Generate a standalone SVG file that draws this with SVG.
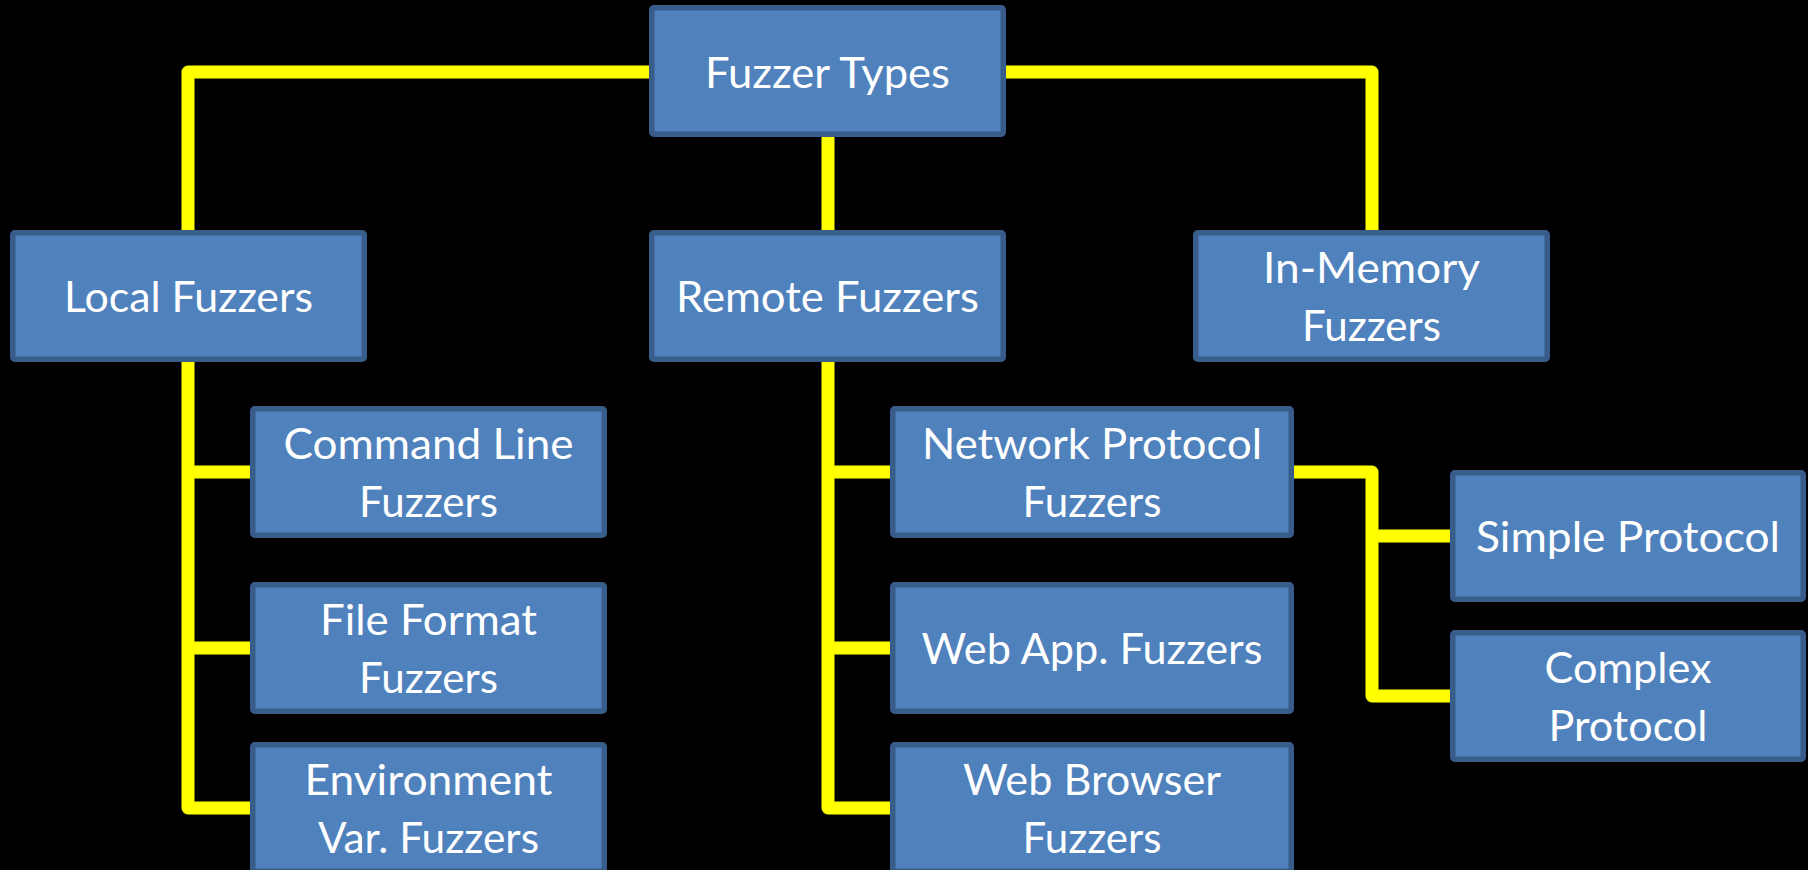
<svg xmlns="http://www.w3.org/2000/svg" width="1808" height="870" viewBox="0 0 1808 870">
<style>
.bg{fill:#000}
.box{fill:#4F81BD;stroke:#385D8A;stroke-width:5.5}
.lbl{fill:#fff;font-family:Lato,"Open Sans",sans-serif;font-size:42px;text-anchor:middle}
.con{fill:none;stroke:#FFFF00;stroke-width:13;stroke-linejoin:round;stroke-linecap:butt}
</style>
<rect class="bg" x="0" y="0" width="1808" height="870"/>
<g id="connectors">
<path class="con" d="M652 72 H188 V232"/>
<path class="con" d="M1004 72 H1372 V232"/>
<path class="con" d="M828 135 V232"/>
<path class="con" d="M188 360 V808 H252"/>
<path class="con" d="M188 472 H252"/>
<path class="con" d="M188 648 H252"/>
<path class="con" d="M828 360 V808 H892"/>
<path class="con" d="M828 472 H892"/>
<path class="con" d="M828 648 H892"/>
<path class="con" d="M1292 472 H1372 V696 H1452"/>
<path class="con" d="M1372 536 H1452"/>
</g>
<g id="n-fuzzer-types"><rect class="box" x="651.75" y="7.75" width="351.5" height="126.5" rx="2"/><text class="lbl" x="827.5" y="88" textLength="245" lengthAdjust="spacingAndGlyphs">Fuzzer Types</text></g>
<g id="n-local"><rect class="box" x="12.75" y="232.75" width="351.5" height="126.5" rx="2"/><text class="lbl" x="188.5" y="312" textLength="249" lengthAdjust="spacingAndGlyphs">Local Fuzzers</text></g>
<g id="n-remote"><rect class="box" x="651.75" y="232.75" width="351.5" height="126.5" rx="2"/><text class="lbl" x="827.5" y="312" textLength="303" lengthAdjust="spacingAndGlyphs">Remote Fuzzers</text></g>
<g id="n-inmemory"><rect class="box" x="1195.75" y="232.75" width="351.5" height="126.5" rx="2"/><text class="lbl" x="1371.5" y="283" textLength="217" lengthAdjust="spacingAndGlyphs">In-Memory</text><text class="lbl" x="1371.5" y="341" textLength="139" lengthAdjust="spacingAndGlyphs">Fuzzers</text></g>
<g id="n-cmdline"><rect class="box" x="252.75" y="408.75" width="351.5" height="126.5" rx="2"/><text class="lbl" x="428.5" y="459" textLength="290" lengthAdjust="spacingAndGlyphs">Command Line</text><text class="lbl" x="428.5" y="517" textLength="139" lengthAdjust="spacingAndGlyphs">Fuzzers</text></g>
<g id="n-fileformat"><rect class="box" x="252.75" y="584.75" width="351.5" height="126.5" rx="2"/><text class="lbl" x="428.5" y="635" textLength="217" lengthAdjust="spacingAndGlyphs">File Format</text><text class="lbl" x="428.5" y="693" textLength="139" lengthAdjust="spacingAndGlyphs">Fuzzers</text></g>
<g id="n-env"><rect class="box" x="252.75" y="744.75" width="351.5" height="126.5" rx="2"/><text class="lbl" x="428.5" y="795" textLength="248" lengthAdjust="spacingAndGlyphs">Environment</text><text class="lbl" x="428.5" y="853" textLength="221" lengthAdjust="spacingAndGlyphs">Var. Fuzzers</text></g>
<g id="n-netproto"><rect class="box" x="892.75" y="408.75" width="398.5" height="126.5" rx="2"/><text class="lbl" x="1092" y="459" textLength="340" lengthAdjust="spacingAndGlyphs">Network Protocol</text><text class="lbl" x="1092" y="517" textLength="139" lengthAdjust="spacingAndGlyphs">Fuzzers</text></g>
<g id="n-webapp"><rect class="box" x="892.75" y="584.75" width="398.5" height="126.5" rx="2"/><text class="lbl" x="1092" y="664" textLength="341" lengthAdjust="spacingAndGlyphs">Web App. Fuzzers</text></g>
<g id="n-webbrowser"><rect class="box" x="892.75" y="744.75" width="398.5" height="126.5" rx="2"/><text class="lbl" x="1092" y="795" textLength="258" lengthAdjust="spacingAndGlyphs">Web Browser</text><text class="lbl" x="1092" y="853" textLength="139" lengthAdjust="spacingAndGlyphs">Fuzzers</text></g>
<g id="n-simple"><rect class="box" x="1452.75" y="472.75" width="350.5" height="126.5" rx="2"/><text class="lbl" x="1628" y="552" textLength="304" lengthAdjust="spacingAndGlyphs">Simple Protocol</text></g>
<g id="n-complex"><rect class="box" x="1452.75" y="632.75" width="350.5" height="126.5" rx="2"/><text class="lbl" x="1628" y="683" textLength="167" lengthAdjust="spacingAndGlyphs">Complex</text><text class="lbl" x="1628" y="741" textLength="159" lengthAdjust="spacingAndGlyphs">Protocol</text></g>
</svg>
